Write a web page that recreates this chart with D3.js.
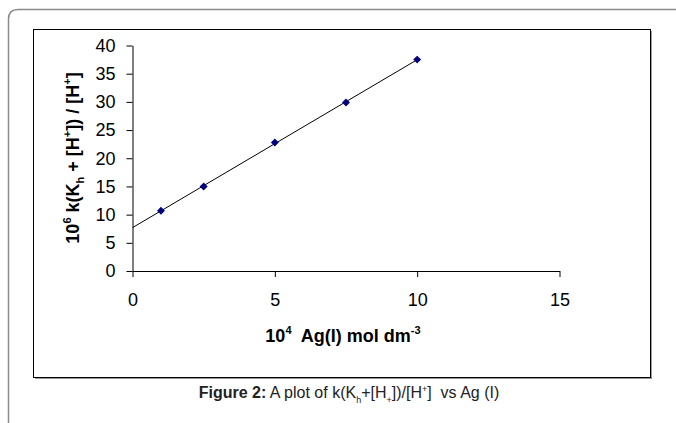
<!DOCTYPE html>
<html>
<head>
<meta charset="utf-8">
<script src="https://cdn.jsdelivr.net/npm/d3@7"></script>
<style>
  body { margin: 0; background: #fff; }
  svg text { font-family: "Liberation Sans", Arial, sans-serif; }
</style>
</head>
<body>
<svg id="chart" width="676" height="423"></svg>
<script>
// data
const agConc = [1, 2.5, 5, 7.5, 10];
const rateRatio = [10.7, 15.0, 22.8, 29.9, 37.5];
const xTicks = [0, 5, 10, 15];
const yTicks = [0, 5, 10, 15, 20, 25, 30, 35, 40];

const svg = d3.select("#chart");

// outer card
svg.append("path")
    .attr("d", "M8.5,440 L8.5,19 Q8.5,9.5 18,9.5 L690,9.5")
    .attr("fill", "none")
    .attr("stroke", "#8a8a8a")
    .attr("stroke-width", 1.5);

// chart frame with a small shadow
svg.append("rect").attr("x", 35).attr("y", 31).attr("width", 617).attr("height", 348)
    .attr("fill", "#9a9a9a");
svg.append("rect").attr("x", 33.5).attr("y", 29.5).attr("width", 617).attr("height", 348)
    .attr("fill", "#fff").attr("stroke", "#000").attr("stroke-width", 1);

const x = d3.scaleLinear().domain([0, 15]).range([132.5, 559.5]);
const y = d3.scaleLinear().domain([0, 40]).range([271, 45.5]);

const xAxis = svg.append("g")
    .attr("transform", "translate(0," + y(0) + ")")
    .call(d3.axisBottom(x).tickValues(xTicks).tickSize(6).tickPadding(16).tickSizeOuter(0));

const yAxis = svg.append("g")
    .attr("transform", "translate(" + x(0) + ",0)")
    .call(d3.axisLeft(y).tickValues(yTicks).tickSize(6).tickPadding(11).tickSizeOuter(0));

[xAxis, yAxis].forEach(function (a) {
    a.select(".domain").attr("stroke", "#000");
    a.selectAll(".tick line").attr("stroke", "#000");
    a.selectAll(".tick text")
        .attr("fill", "#000")
        .style("font-size", "18px")
        .style("font-family", "'Liberation Sans', Arial, sans-serif");
});

// least squares trendline, as in the original spreadsheet plot
const mx = d3.mean(agConc), my = d3.mean(rateRatio);
const slope = d3.sum(agConc, (d, i) => (d - mx) * (rateRatio[i] - my)) / d3.sum(agConc, d => (d - mx) * (d - mx));
const icpt = my - slope * mx;

svg.append("line")
    .attr("x1", x(0)).attr("y1", y(icpt))
    .attr("x2", x(10)).attr("y2", y(icpt + slope * 10))
    .attr("stroke", "#000").attr("stroke-width", 1);

svg.selectAll(".pt")
    .data(agConc)
    .enter()
    .append("path")
    .attr("class", "pt")
    .attr("d", d3.symbol().type(d3.symbolDiamond2).size(40))
    .attr("transform", (d, i) => "translate(" + x(d) + "," + y(rateRatio[i]) + ")")
    .attr("fill", "#000080");

// axis titles
const xt = svg.append("text")
    .attr("x", 343).attr("y", 342)
    .attr("text-anchor", "middle")
    .style("font-size", "18px").style("font-weight", "bold");
xt.append("tspan").text("10");
xt.append("tspan").attr("dy", -8).style("font-size", "11px").text("4");
xt.append("tspan").attr("dy", 8).text("\u00a0 Ag(I) mol dm");
xt.append("tspan").attr("dy", -8).style("font-size", "11px").text("-3");

const yt = svg.append("text")
    .attr("transform", "translate(79,158) rotate(-90)")
    .attr("text-anchor", "middle")
    .style("font-size", "18px").style("font-weight", "bold");
yt.append("tspan").text("10");
yt.append("tspan").attr("dy", -8).style("font-size", "11px").text("6");
yt.append("tspan").attr("dy", 8).text(" k(K");
yt.append("tspan").attr("dy", 5).style("font-size", "11px").text("h");
yt.append("tspan").attr("dy", -5).text(" + [H");
yt.append("tspan").attr("dy", -8).style("font-size", "11px").text("+");
yt.append("tspan").attr("dy", 8).text("]) / [H");
yt.append("tspan").attr("dy", -8).style("font-size", "11px").text("+");
yt.append("tspan").attr("dy", 8).text("]");

// caption
const cap = svg.append("text")
    .attr("x", 349).attr("y", 398)
    .attr("text-anchor", "middle")
    .attr("fill", "#222")
    .style("font-size", "16px");
cap.append("tspan").style("font-weight", "bold").text("Figure 2:");
cap.append("tspan").text(" A plot of k(K");
cap.append("tspan").attr("dy", 5).style("font-size", "9px").text("h");
cap.append("tspan").attr("dy", -5).text("+[H");
cap.append("tspan").attr("dy", 5).style("font-size", "9px").text("+");
cap.append("tspan").attr("dy", -5).text("])/[H");
cap.append("tspan").attr("dy", -6).style("font-size", "9px").text("+");
cap.append("tspan").attr("dy", 6).text("]\u00a0 vs Ag (I)");
</script>
</body>
</html>
